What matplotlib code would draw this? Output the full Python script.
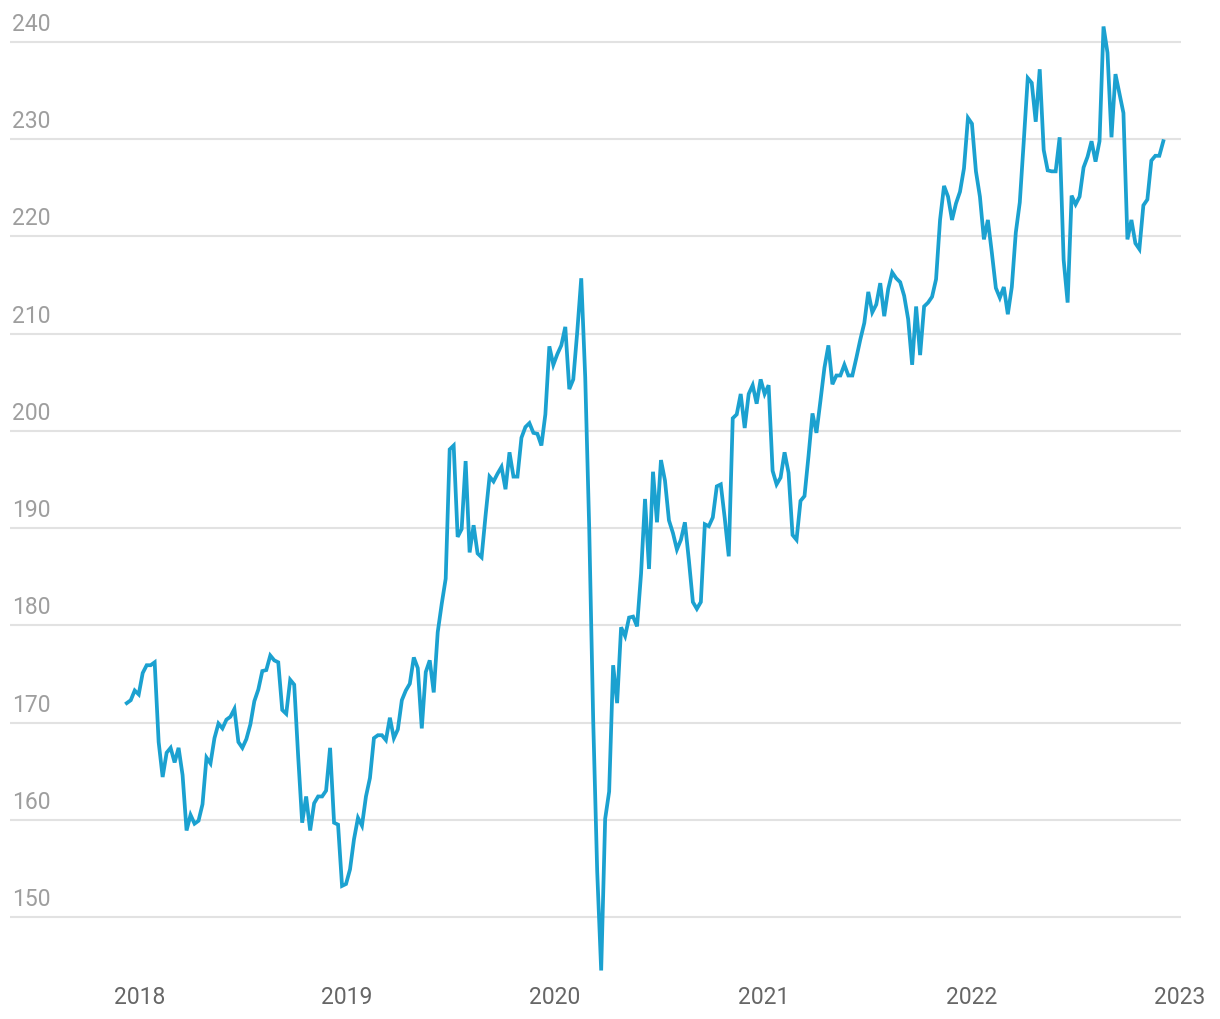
import matplotlib
matplotlib.use("Agg")
import matplotlib.pyplot as plt
import matplotlib.transforms as mtransforms
import pandas as pd

plt.rcParams['font.family'] = ['Roboto', 'DejaVu Sans']

# weekly values, first week ending 2017-12-10
start_date = '2017-12-10'
values = [
    172.0, 172.3, 173.3, 172.9, 175.1, 175.9, 175.9, 176.2, 168.0, 164.4,
    166.9, 167.4, 165.9, 167.4, 164.6, 158.9, 160.5, 159.6, 159.9, 161.6,
    166.4, 165.8, 168.4, 169.9, 169.4, 170.3, 170.6, 171.4, 168.0, 167.4,
    168.3, 169.8, 172.2, 173.4, 175.3, 175.4, 176.9, 176.4, 176.2, 171.3,
    170.9, 174.4, 173.9, 166.5, 159.7, 162.4, 158.9, 161.7, 162.4, 162.4,
    163.0, 167.4, 159.7, 159.5, 153.2, 153.4, 154.9, 158.0, 160.2, 159.4,
    162.4, 164.3, 168.4, 168.7, 168.7, 168.2, 170.5, 168.4, 169.3, 172.3,
    173.3, 174.0, 176.7, 175.6, 169.4, 175.2, 176.4, 173.1, 179.3, 182.2,
    184.8, 198.1, 198.5, 189.1, 189.9, 196.9, 187.5, 190.3, 187.4, 187.0,
    191.3, 195.3, 194.8, 195.6, 196.3, 194.0, 197.8, 195.3, 195.3, 199.3,
    200.4, 200.8, 199.8, 199.7, 198.5, 201.7, 208.7, 206.8, 207.9, 208.8,
    210.7, 204.3, 205.3, 210.2, 215.7, 205.5, 190.0, 170.2, 154.7, 144.5,
    160.1, 162.9, 175.9, 172.0, 179.8, 178.9, 180.8, 180.9, 179.9, 185.3,
    193.0, 185.8, 195.8, 190.6, 197.0, 194.9, 190.8, 189.5, 187.8, 188.8,
    190.6, 186.7, 182.4, 181.7, 182.4, 190.4, 190.2, 191.1, 194.3, 194.5,
    191.0, 187.1, 201.3, 201.7, 203.8, 200.3, 203.8, 204.7, 202.8, 205.3,
    203.8, 204.7, 195.9, 194.5, 195.2, 197.8, 195.7, 189.3, 188.8, 192.8,
    193.3, 197.4, 201.8, 199.8, 203.1, 206.5, 208.8, 204.8, 205.7, 205.7,
    206.8, 205.7, 205.7, 207.5, 209.4, 211.1, 214.3, 212.2, 213.0, 215.2,
    211.8, 214.6, 216.3, 215.7, 215.3, 213.9, 211.5, 206.8, 212.8, 207.8,
    212.8, 213.2, 213.8, 215.6, 221.7, 225.2, 224.1, 221.7, 223.4, 224.6,
    227.0, 232.2, 231.6, 226.7, 224.1, 219.7, 221.7, 218.3, 214.7, 213.7,
    214.8, 212.0, 214.8, 220.4, 223.5, 229.8, 236.3, 235.8, 231.8, 237.2,
    228.9, 226.8, 226.7, 226.7, 230.2, 217.6, 213.2, 224.2, 223.3, 224.1,
    227.1, 228.2, 229.8, 227.7, 229.8, 241.6, 238.9, 230.2, 236.7, 234.7,
    232.7, 219.7, 221.7, 219.3, 218.7, 223.2, 223.8, 227.8, 228.3, 228.3,
    229.8,
]
y_ticks = [150, 160, 170, 180, 190, 200, 210, 220, 230, 240]
x_ticks = ['2018', '2019', '2020', '2021', '2022', '2023']

dates = pd.date_range(start_date, periods=len(values), freq='7D')

fig = plt.figure(figsize=(12.2, 10.2), dpi=100)
ax = fig.add_axes([0.0082, 0.0428, 0.9598, 0.9436])

ax.plot(dates, values, color='#1ba1d0', linewidth=2.7, solid_joinstyle='miter', zorder=3)

ax.set_xlim(pd.Timestamp('2017-05-19'), pd.Timestamp('2023-01-04'))
ax.set_ylim(144, 243)

for v in y_ticks:
    ax.axhline(v, color='#e2e2e2', linewidth=1.5, zorder=1)

# y labels sit above their gridlines at the left
offset = mtransforms.offset_copy(ax.get_yaxis_transform(), fig=fig, x=2, y=7, units='dots')
for v in y_ticks:
    ax.text(0, v, str(v), transform=offset, ha='left', va='bottom',
            fontsize=16.5, color='#9e9e9e')

ax.set_yticks([])
ax.set_xticks([pd.Timestamp(f'{y}-01-01') for y in x_ticks])
ax.set_xticklabels(x_ticks)
ax.tick_params(axis='x', length=0, pad=7, labelsize=16.5, labelcolor='#666666')
for s in ax.spines.values():
    s.set_visible(False)

fig.savefig('out.png', dpi=100)
